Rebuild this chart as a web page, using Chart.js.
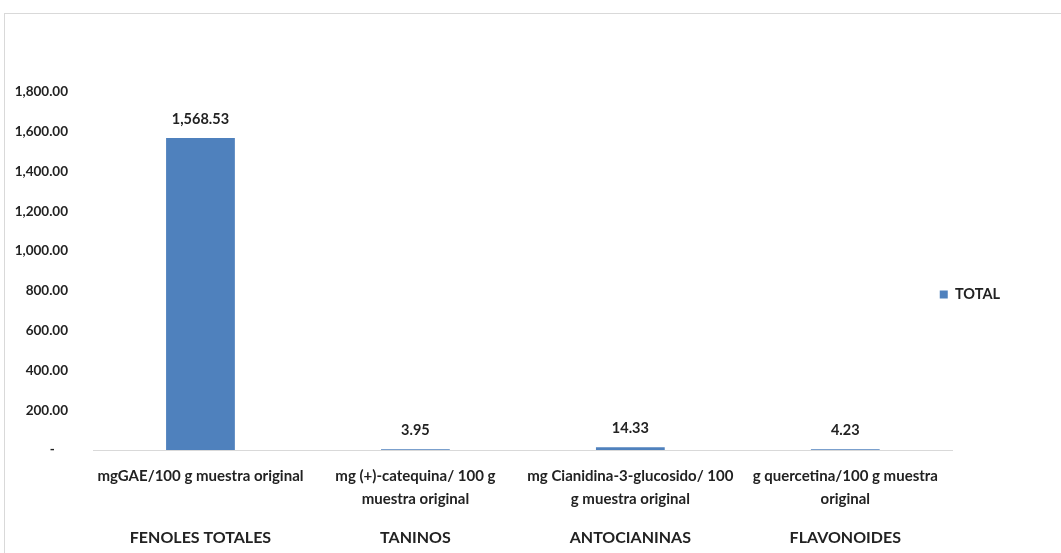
<!DOCTYPE html>
<html>
<head>
<meta charset="utf-8">
<script src="https://cdn.jsdelivr.net/npm/chart.js@4.4.1/dist/chart.umd.min.js"></script>
<style>
  html, body { margin: 0; padding: 0; background: #fff; }
  #wrap { position: relative; width: 1061px; height: 553px; overflow: hidden; }
  #frame { position: absolute; left: 4px; top: 13px; width: 1100px; height: 600px;
           border: 1px solid #d9d9d9; box-sizing: border-box; }
  canvas { position: absolute; left: 0; top: 0; }
</style>
</head>
<body>
<div id="wrap">
  <div id="frame"></div>
  <canvas id="c" width="1061" height="553"></canvas>
</div>
<script>
// Unit labels (first level of the category axis)
const unitLabels = [
  ['mgGAE/100 g muestra original'],
  ['mg (+)-catequina/ 100 g', 'muestra original'],
  ['mg Cianidina-3-glucosido/ 100', 'g muestra original'],
  ['g quercetina/100 g muestra', 'original']
];
// Compound groups (second level of the category axis)
const groupLabels = ['FENOLES TOTALES', 'TANINOS', 'ANTOCIANINAS', 'FLAVONOIDES'];
// Series values
const totalValues = [1568.53, 3.95, 14.33, 4.23];
const seriesName = 'TOTAL';
// Value axis
const yMax = 1800;
const yStep = 200;

const FONT = 'Lato, "Open Sans", sans-serif';
const TEXT = '#222222';

const fmt = v => v.toLocaleString('en-US', { minimumFractionDigits: 2, maximumFractionDigits: 2 });

// Value captions above each bar
const valueLabels = {
  id: 'valueLabels',
  afterDatasetsDraw(chart) {
    const ctx = chart.ctx;
    const meta = chart.getDatasetMeta(0);
    ctx.save();
    ctx.font = 'bold 14.5px ' + FONT;
    ctx.fillStyle = TEXT;
    ctx.textAlign = 'center';
    ctx.textBaseline = 'middle';
    meta.data.forEach((bar, i) => {
      ctx.fillText(fmt(chart.data.datasets[0].data[i]), bar.x, bar.y - 19);
    });
    ctx.restore();
  }
};

// Nudge the legend box so it sits tight against the plot edge
const legendOffset = {
  id: 'legendOffset',
  afterLayout(chart) {
    const lg = chart.legend;
    if (!lg) return;
    const dx = -19, dy = -28;
    lg.left += dx; lg.right += dx;
    lg.top += dy; lg.bottom += dy;
  }
};

new Chart(document.getElementById('c'), {
  type: 'bar',
  data: {
    labels: unitLabels,
    datasets: [{
      label: seriesName,
      data: totalValues,
      backgroundColor: '#4F81BD',
      borderWidth: 0,
      categoryPercentage: 1,
      barPercentage: 0.32
    }]
  },
  options: {
    responsive: false,
    animation: false,
    devicePixelRatio: 1,
    layout: { padding: { left: 13, top: 92, right: 32, bottom: 0 } },
    plugins: {
      tooltip: { enabled: false },
      legend: {
        position: 'right',
        align: 'center',
        labels: {
          boxWidth: 8,
          boxHeight: 8,
          padding: 6,
          color: TEXT,
          font: { family: FONT, size: 14.5, weight: 'bold' }
        }
      }
    },
    scales: {
      y: {
        min: 0,
        max: yMax,
        ticks: {
          stepSize: yStep,
          padding: 17,
          color: TEXT,
          font: { family: FONT, size: 13.5, weight: 'bold' },
          callback: v => v === 0 ? '-    ' : fmt(v)
        },
        grid: { display: false },
        border: { display: false },
        afterFit: s => { s.width = 80; }
      },
      x: {
        ticks: {
          padding: 7,
          color: TEXT,
          autoSkip: false,
          maxRotation: 0,
          font: { family: FONT, size: 15, weight: 'bold', lineHeight: '23px' }
        },
        grid: { display: false },
        border: { display: true, color: '#d9d9d9', width: 1 },
        afterFit: s => { s.height = 70; }
      },
      x2: {
        type: 'category',
        position: 'bottom',
        labels: groupLabels,
        ticks: {
          padding: 0,
          color: TEXT,
          autoSkip: false,
          maxRotation: 0,
          font: { family: FONT, size: 16, weight: 'bold' }
        },
        grid: { display: false },
        border: { display: false },
        afterFit: s => { s.height = 33; }
      }
    }
  },
  plugins: [valueLabels, legendOffset]
});
</script>
</body>
</html>
